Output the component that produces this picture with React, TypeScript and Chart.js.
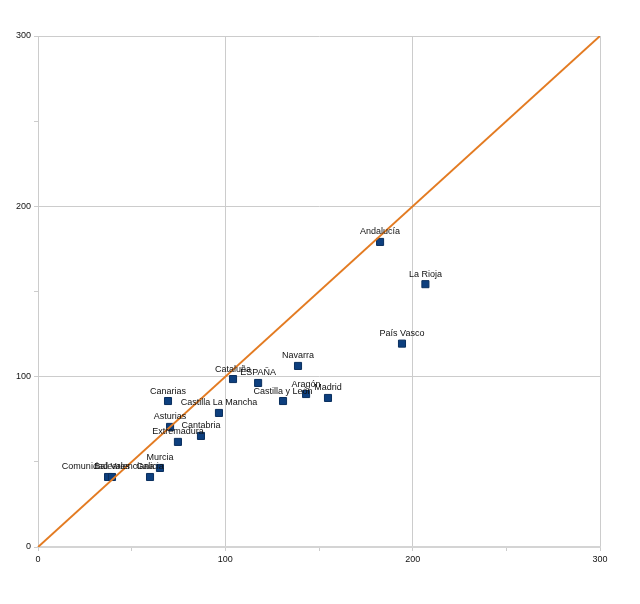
import React, { useEffect, useRef } from "react";
import { Chart, registerables } from "chart.js";

Chart.register(...registerables);

const regions = [
  "Andalucía", "La Rioja", "País Vasco", "Navarra", "Cataluña", "ESPAÑA",
  "Castilla y León", "Aragón", "Madrid", "Canarias", "Castilla La Mancha",
  "Asturias", "Cantabria", "Extremadura", "Murcia", "Galicia",
  "Comunidad Valenciana", "Baleares",
];
const xValues = [182.6, 206.8, 194.3, 138.8, 104.1, 117.5, 130.8, 143.1, 154.8, 69.4, 96.6, 70.5, 87.0, 74.7, 65.1, 59.8, 37.4, 39.5];
const yValues = [179.1, 154.3, 119.4, 106.3, 98.6, 96.3, 85.7, 89.8, 87.5, 85.7, 78.7, 70.5, 65.2, 61.7, 46.4, 41.1, 41.1, 41.1];
const refLineX = [0, 300];
const refLineY = [0, 300];

const FONT = "Liberation Sans, Arial, sans-serif";

const labelPlugin = {
  id: "pointLabels",
  afterDatasetsDraw(chart: any) {
    const meta = chart.getDatasetMeta(1);
    const ctx = chart.ctx;
    ctx.save();
    ctx.font = `9px ${FONT}`;
    ctx.fillStyle = "#111";
    ctx.textAlign = "center";
    ctx.textBaseline = "middle";
    meta.data.forEach((el: any, i: number) => {
      ctx.fillText(regions[i], el.x, el.y - 10);
    });
    ctx.restore();
  },
};

export default function App() {
  const ref = useRef<HTMLCanvasElement>(null);
  useEffect(() => {
    document.body.style.margin = "0";
    const gridColor = (c: any) =>
      c.tick && c.tick.value % 100 === 0 ? "#cccccc" : "rgba(0,0,0,0)";
    const chart = new Chart(ref.current!, {
      type: "scatter",
      data: {
        datasets: [
          {
            type: "line",
            data: refLineX.map((x, i) => ({ x, y: refLineY[i] })),
            borderColor: "#e37b22",
            borderWidth: 2,
            pointRadius: 0,
            showLine: true,
            fill: false,
          } as any,
          {
            data: xValues.map((x, i) => ({ x, y: yValues[i] })),
            pointStyle: "rect",
            pointRadius: 5,
            backgroundColor: "#0d3f7e",
            borderColor: "#0a2f5e",
            borderWidth: 1,
          },
        ],
      },
      options: {
        animation: false,
        responsive: false,
        layout: { padding: { top: 36, right: 40, left: 0, bottom: 0 } },
        plugins: { legend: { display: false }, tooltip: { enabled: false } },
        scales: {
          x: {
            type: "linear",
            min: 0,
            max: 300,
            ticks: {
              stepSize: 50,
              font: { size: 9, family: FONT },
              color: "#111",
              padding: 3,
              maxRotation: 0,
              callback: (v: any) => (v % 100 === 0 ? String(v) : ""),
            },
            grid: { color: gridColor, tickColor: "#cccccc", tickLength: 4 },
            border: { color: "#d4d4d4", width: 2 },
            afterFit: (s: any) => { s.height = 57; },
          },
          y: {
            type: "linear",
            min: 0,
            max: 300,
            ticks: {
              stepSize: 50,
              font: { size: 9, family: FONT },
              color: "#111",
              padding: 3,
              callback: (v: any) => (v % 100 === 0 ? String(v) : ""),
            },
            grid: { color: gridColor, tickColor: "#cccccc", tickLength: 4 },
            border: { color: "#cccccc", width: 1 },
            afterFit: (s: any) => { s.width = 38; },
          },
        },
      },
      plugins: [labelPlugin],
    });
    return () => chart.destroy();
  }, []);
  return <canvas ref={ref} width={640} height={604} style={{ display: "block" }} />;
}
